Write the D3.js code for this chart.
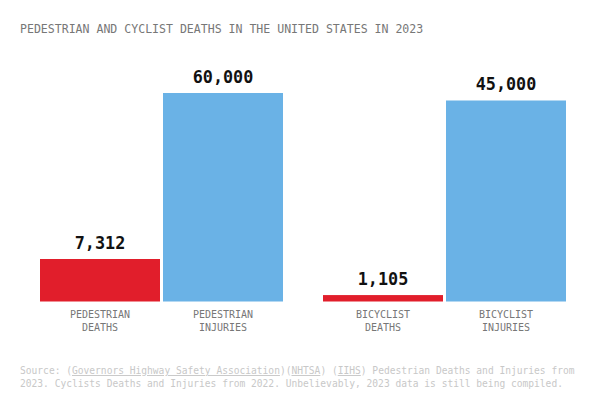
<!DOCTYPE html>
<html>
<head>
<meta charset="utf-8">
<script src="https://cdn.jsdelivr.net/npm/d3@7"></script>
<style>
  body { margin: 0; background: #fff; }
  text { font-family: "DejaVu Sans Mono", "Liberation Mono", monospace; }
</style>
</head>
<body>
<svg id="chart" width="606" height="410"></svg>
<script>
// data
let groups = ["PEDESTRIAN", "BICYCLIST"];
let kinds = ["DEATHS", "INJURIES"];
let deaths = [7312, 1105];
let injuries = [60000, 45000];

let svg = d3.select("#chart"),
    baseline = 301.5,
    yTop = 93;

let rows = [];
groups.forEach(function(g, i) {
  rows.push({ group: g, kind: "DEATHS", value: deaths[i] });
  rows.push({ group: g, kind: "INJURIES", value: injuries[i] });
});

let x0 = d3.scaleBand()
    .domain(groups)
    .range([40, 566])
    .paddingInner(40 / 283);

let x1 = d3.scaleBand()
    .domain(kinds)
    .range([0, x0.bandwidth()])
    .paddingInner(3 / 123);

// deaths and injuries sit on their own scales in the original
let yDeaths = d3.scaleLinear()
    .domain([0, d3.max(deaths)])
    .range([baseline, baseline - 42.5]);

let yInjuries = d3.scaleLog()
    .domain([20, d3.max(injuries)])
    .range([baseline, yTop]);

function y(d) { return d.kind == "DEATHS" ? yDeaths(d.value) : yInjuries(d.value); }

let color = d3.scaleOrdinal()
    .domain(kinds)
    .range(["#e11e2b", "#6ab2e6"]);

svg.append("text")
    .attr("x", 20)
    .attr("y", 33)
    .attr("fill", "#777")
    .attr("font-size", 11.55)
    .text("PEDESTRIAN AND CYCLIST DEATHS IN THE UNITED STATES IN 2023");

let bar = svg.append("g")
  .selectAll("g")
  .data(rows)
  .enter().append("g")
    .attr("transform", function(d) { return "translate(" + (x0(d.group) + x1(d.kind)) + ",0)"; });

bar.append("rect")
    .attr("y", y)
    .attr("height", function(d) { return baseline - y(d); })
    .attr("width", x1.bandwidth())
    .attr("fill", function(d) { return color(d.kind); });

bar.append("text")
    .attr("x", x1.bandwidth() / 2)
    .attr("y", function(d) { return y(d) - 10; })
    .attr("text-anchor", "middle")
    .attr("font-size", 16.8)
    .attr("font-weight", "bold")
    .attr("fill", "#111")
    .text(function(d) { return d3.format(",")(d.value); });

let lab = bar.append("text")
    .attr("text-anchor", "middle")
    .attr("font-size", 10)
    .attr("fill", "#777");

lab.append("tspan")
    .attr("x", x1.bandwidth() / 2)
    .attr("y", 317.5)
    .text(function(d) { return d.group; });

lab.append("tspan")
    .attr("x", x1.bandwidth() / 2)
    .attr("y", 330.5)
    .text(function(d) { return d.kind; });

let src = svg.append("text")
    .attr("font-size", 9.6)
    .attr("fill", "#c8c8c8");

let line1 = src.append("tspan").attr("x", 20).attr("y", 374);
line1.append("tspan").text("Source: (");
line1.append("tspan").attr("text-decoration", "underline").text("Governors Highway Safety Association");
line1.append("tspan").text(")(");
line1.append("tspan").attr("text-decoration", "underline").text("NHTSA");
line1.append("tspan").text(") (");
line1.append("tspan").attr("text-decoration", "underline").text("IIHS");
line1.append("tspan").text(") Pedestrian Deaths and Injuries from");

src.append("tspan")
    .attr("x", 20)
    .attr("y", 386.5)
    .text("2023. Cyclists Deaths and Injuries from 2022. Unbelievably, 2023 data is still being compiled.");
</script>
</body>
</html>
